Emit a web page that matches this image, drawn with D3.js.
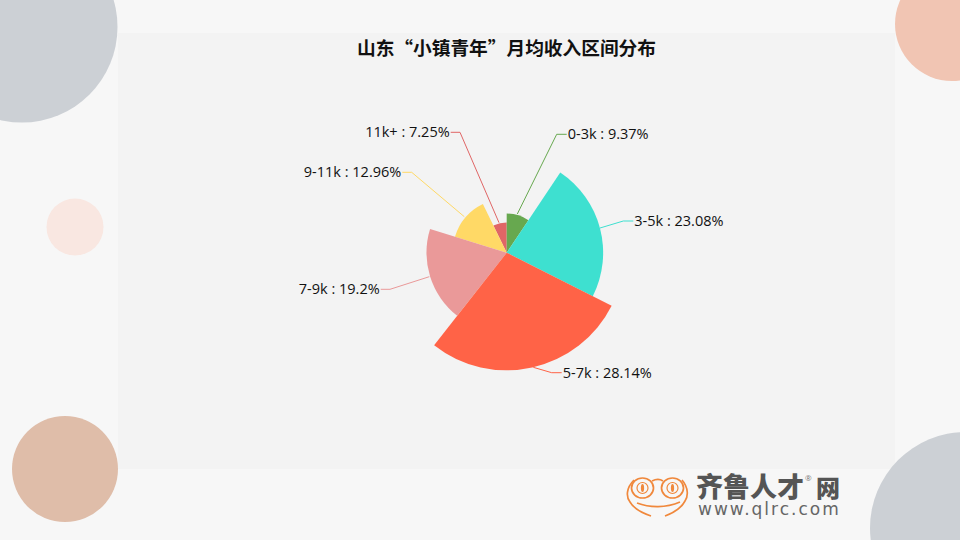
<!DOCTYPE html>
<html><head><meta charset="utf-8">
<script src="https://cdn.jsdelivr.net/npm/d3@7"></script>
<style>html,body{margin:0;padding:0;background:#f7f7f7}svg{display:block}</style></head>
<body><svg id="c" width="960" height="540"></svg>
<script>
const categories = ["0-3k","3-5k","5-7k","7-9k","9-11k","11k+"];
const seriesValues = [9.37,23.08,28.14,19.2,12.96,7.25];
const chartTitle = "山东“小镇青年”月均收入区间分布";

const colors = ["#67a84f","#3ee0d0","#ff6347","#ea9999","#ffd966","#e06666"];
const leaders = [
  {a:[517.3,214],b:[556.7,134.3],c:[566.7,134.3],side:1},
  {a:[600,228],b:[623.3,221],c:[633.3,221],side:1},
  {a:[533.3,367.3],b:[551.7,372.7],c:[561.7,372.7],side:1},
  {a:[429.3,276.7],b:[390,289.3],c:[380.7,289.3],side:-1},
  {a:[464.3,216.7],b:[411.7,172.3],c:[402.3,172.3],side:-1},
  {a:[499,222.7],b:[460,132.3],c:[450.7,132.3],side:-1}
];
const font = "'Open Sans','Noto Sans CJK SC',sans-serif";
const svg = d3.select("#c");

svg.append("rect").attr("width",960).attr("height",540).attr("fill","#f7f7f7");
svg.append("rect").attr("x",118).attr("y",33).attr("width",777).attr("height",436).attr("fill","#f3f3f3");
[[22,27,95.5,"#ccd0d5"],[952,24,57,"#f1c5b3"],[75,227,28.5,"#f9e7e1"],[65,469,53,"#dfbda9"],[966,528,96,"#ccd0d5"]]
 .forEach(([x,y,r,f])=>svg.append("circle").attr("cx",x).attr("cy",y).attr("r",r).attr("fill",f));

svg.append("text").attr("x",506.5).attr("y",55).attr("text-anchor","middle")
  .attr("font-family","'Noto Sans CJK SC',sans-serif").attr("font-weight",700).attr("font-size",18.7)
  .attr("fill","#111").text(chartTitle);

const g = svg.append("g").attr("transform","translate(506.7,252.7)");
const r = d3.scaleLinear().domain([0,d3.max(seriesValues)]).range([0,117.6]);
const pie = d3.pie().sort(null)(seriesValues);
const arc = d3.arc().innerRadius(0);
const order = d3.range(pie.length);
// the rose draws later slices first so that 5-7k sits on top of its neighbours
[5,4,3,0,1,2].forEach(i=>{
  g.append("path").attr("d",arc({...pie[i],outerRadius:r(seriesValues[i])})).attr("fill",colors[i]);
});

const line = d3.line().curve(d3.curveLinear);
order.forEach(i=>{
  const l = leaders[i];
  svg.append("path").attr("d",line([l.a,l.b,l.c])).attr("fill","none").attr("stroke",colors[i]).attr("stroke-width",1);
  svg.append("text").attr("x",l.c[0]+l.side*1).attr("y",l.c[1]+5)
    .attr("text-anchor",l.side>0?"start":"end").attr("font-family",font).attr("font-size",14.5).attr("fill","#111")
    .text(`${categories[i]} : ${seriesValues[i]}%`);
});

// logo
const logo = svg.append("g").attr("fill","none").attr("stroke","#f0883c").attr("stroke-width",1.7);
logo.append("path").attr("d","M634 480 C626 488 626 497 630 502 C634 509 642 513 651 516");
logo.append("path").attr("d","M682 480 C689 488 688 497 685 501 C681 509 673 513 665 516");
logo.append("path").attr("d","M637 503 C650 508 666 508 680 502");
logo.append("path").attr("d","M652 481 C656 479 660 479 663 481");
logo.append("ellipse").attr("cx",642.5).attr("cy",488).attr("rx",11).attr("ry",10);
logo.append("ellipse").attr("cx",672.5).attr("cy",488).attr("rx",11).attr("ry",10);
logo.append("circle").attr("cx",642.5).attr("cy",488).attr("r",5.5).attr("stroke-width",1.2);
logo.append("circle").attr("cx",672.5).attr("cy",488).attr("r",5.5).attr("stroke-width",1.2);
logo.append("ellipse").attr("cx",642.5).attr("cy",488).attr("rx",1.6).attr("ry",4).attr("fill","#f0883c").attr("stroke","none");
logo.append("ellipse").attr("cx",672.5).attr("cy",488).attr("rx",1.6).attr("ry",4).attr("fill","#f0883c").attr("stroke","none");
svg.append("text").attr("x",696).attr("y",497).attr("font-family","'Noto Sans CJK SC',sans-serif").attr("font-weight",900).attr("font-size",27).attr("fill","#555").text("齐鲁人才");
svg.append("text").attr("x",816).attr("y",497).attr("font-family","'Noto Sans CJK SC',sans-serif").attr("font-weight",900).attr("font-size",24).attr("fill","#555").text("网");
svg.append("text").attr("x",805).attr("y",481).attr("font-family",font).attr("font-size",8).attr("fill","#777").text("®");
svg.append("text").attr("x",698).attr("y",515).attr("font-family","'DejaVu Sans',sans-serif").attr("font-size",17).attr("letter-spacing",2).attr("fill","#666").text("www.qlrc.com");
</script></body></html>
